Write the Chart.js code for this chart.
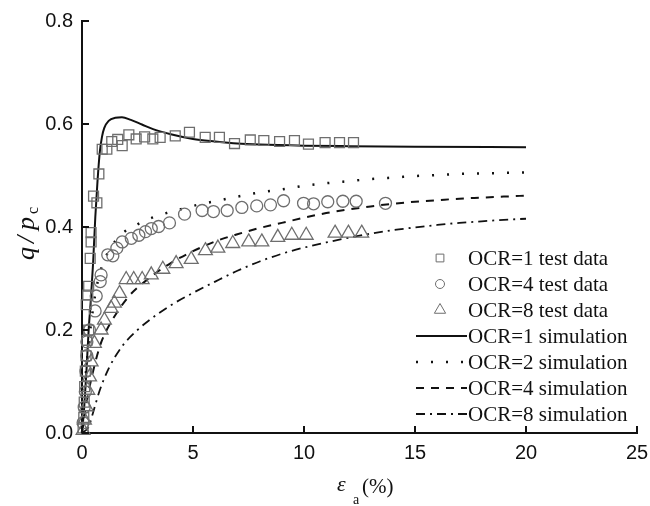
<!DOCTYPE html>
<html><head><meta charset="utf-8">
<script src="https://cdn.jsdelivr.net/npm/chart.js@4.4.0/dist/chart.umd.min.js"></script>
<style>html,body{margin:0;padding:0;background:#fff;}#wrap{width:650px;height:506px;position:relative;}</style>
</head><body><div id="wrap"><canvas id="c" width="650" height="506"></canvas></div>
<script>
// ---- tick values ----
const xTickValues = [0, 5, 10, 15, 20, 25];
const yTickValues = [0, 0.2, 0.4, 0.6, 0.8];
const yTickLabels = ['0.0', '0.2', '0.4', '0.6', '0.8'];
const xTickLabels = ['0', '5', '10', '15', '20', '25'];

// ---- series names ----
const seriesNames = ['OCR=1 test data', 'OCR=4 test data', 'OCR=8 test data',
  'OCR=1 simulation', 'OCR=2 simulation', 'OCR=4 simulation', 'OCR=8 simulation'];

// ---- test data ----
const ocr1TestX = [0.05,0.08,0.1,0.12,0.15,0.18,0.22,0.3,0.19,0.26,0.3,0.37,0.41,0.41,0.52,0.67,0.76,0.91,1.12,1.34,1.61,1.81,2.11,2.44,2.82,3.19,3.52,4.2,4.84,5.55,6.19,6.87,7.58,8.19,8.9,9.57,10.2,10.95,11.6,12.23];
const ocr1TestY = [0.01,0.03,0.06,0.09,0.12,0.15,0.18,0.2,0.249,0.268,0.285,0.339,0.371,0.389,0.46,0.447,0.503,0.551,0.551,0.566,0.57,0.558,0.579,0.571,0.575,0.571,0.574,0.577,0.584,0.574,0.574,0.562,0.569,0.568,0.566,0.568,0.561,0.564,0.564,0.564];

const ocr4TestX = [0.05,0.1,0.15,0.18,0.22,0.22,0.34,0.59,0.64,0.82,0.86,1.16,1.39,1.57,1.81,2.22,2.56,2.86,3.12,3.45,3.94,4.62,5.41,5.92,6.54,7.2,7.87,8.49,9.08,9.98,10.43,11.07,11.75,12.35,13.67];
const ocr4TestY = [0.02,0.05,0.08,0.12,0.15,0.177,0.2,0.237,0.266,0.294,0.307,0.346,0.344,0.359,0.371,0.378,0.384,0.391,0.397,0.401,0.408,0.425,0.432,0.43,0.432,0.438,0.441,0.443,0.451,0.446,0.445,0.449,0.45,0.45,0.446];

const ocr8TestX = [0.05,0.11,0.19,0.26,0.34,0.41,0.56,0.86,1.01,1.31,1.46,1.69,1.99,2.33,2.71,3.12,3.64,4.24,4.92,5.56,6.12,6.79,7.51,8.1,8.82,9.45,10.1,11.4,12.0,12.6];
const ocr8TestY = [0.005,0.025,0.051,0.083,0.109,0.138,0.174,0.2,0.219,0.242,0.252,0.271,0.298,0.298,0.298,0.307,0.318,0.329,0.337,0.354,0.359,0.368,0.371,0.371,0.38,0.384,0.384,0.388,0.388,0.388];

// ---- simulations ----
const ocr1SimX = [0,0.1,0.2,0.3,0.4,0.5,0.6,0.7,0.8,0.9,1.0,1.2,1.5,1.8,2.2,2.7,3.2,4,5,6,7,8,10,12,15,20];
const ocr1SimY = [0,0.05,0.12,0.2,0.26,0.33,0.42,0.49,0.545,0.575,0.592,0.606,0.612,0.613,0.608,0.599,0.59,0.58,0.571,0.566,0.562,0.56,0.558,0.557,0.556,0.555];

const ocr2SimX = [0,0.1,0.2,0.4,0.6,0.8,1.0,1.25,1.75,2.5,3.1,3.8,4.5,5.2,6,7,8,9,10,11,12,13,14,15,16,17,18,19,20];
const ocr2SimY = [0,0.07,0.13,0.21,0.27,0.31,0.335,0.357,0.385,0.405,0.417,0.427,0.435,0.443,0.45,0.459,0.467,0.473,0.48,0.485,0.489,0.493,0.496,0.499,0.501,0.503,0.504,0.505,0.506];

const ocr4SimX = [0,0.1,0.25,0.5,0.8,1.0,1.4,2.1,3,4,5,6,7,8,9,10,11,12,13,14,15,16,17,18,19,20];
const ocr4SimY = [0,0.03,0.07,0.12,0.168,0.19,0.222,0.265,0.3,0.33,0.353,0.372,0.386,0.398,0.408,0.418,0.427,0.434,0.44,0.445,0.449,0.452,0.455,0.457,0.459,0.461];

const ocr8SimX = [0,0.3,0.5,0.8,1.2,1.8,2.5,3,4,5,6,7,8,9,10,11,12,13,14,15,16,17,18,19,20];
const ocr8SimY = [0,0.012,0.04,0.083,0.125,0.168,0.2,0.218,0.248,0.272,0.294,0.315,0.333,0.348,0.36,0.37,0.379,0.387,0.394,0.399,0.404,0.408,0.411,0.414,0.416];

const pts = (xs, ys) => xs.map((x, i) => ({x: x, y: ys[i]}));

const markerColor = '#6e6e6e';
const lineColor = '#111111';

const datasets = [
  {label: seriesNames[0], data: pts(ocr1TestX, ocr1TestY), showLine: false, pointStyle: 'rect', pointRadius: 7, borderColor: markerColor, backgroundColor: 'rgba(0,0,0,0)', pointBorderWidth: 1.3, clip: false},
  {label: seriesNames[1], data: pts(ocr4TestX, ocr4TestY), showLine: false, pointStyle: 'circle', pointRadius: 6, borderColor: markerColor, backgroundColor: 'rgba(0,0,0,0)', pointBorderWidth: 1.3, clip: false},
  {label: seriesNames[2], data: pts(ocr8TestX, ocr8TestY), showLine: false, pointStyle: 'triangle', pointRadius: 8, borderColor: markerColor, backgroundColor: 'rgba(0,0,0,0)', pointBorderWidth: 1.3, clip: false},
  {label: seriesNames[3], data: pts(ocr1SimX, ocr1SimY), showLine: true, pointRadius: 0, borderColor: lineColor, borderWidth: 2, borderDash: [], cubicInterpolationMode: 'monotone', clip: false},
  {label: seriesNames[4], data: pts(ocr2SimX, ocr2SimY), showLine: true, pointRadius: 0, borderColor: lineColor, borderWidth: 2.5, borderDash: [2, 13], cubicInterpolationMode: 'monotone', clip: false},
  {label: seriesNames[5], data: pts(ocr4SimX, ocr4SimY), showLine: true, pointRadius: 0, borderColor: lineColor, borderWidth: 2, borderDash: [8, 7], cubicInterpolationMode: 'monotone', clip: false},
  {label: seriesNames[6], data: pts(ocr8SimX, ocr8SimY), showLine: true, pointRadius: 0, borderColor: lineColor, borderWidth: 1.8, borderDash: [9, 5, 2, 5], cubicInterpolationMode: 'monotone', clip: false}
];

const customPlugin = {
  id: 'customDecor',
  afterDraw(chart) {
    const ctx = chart.ctx, xs = chart.scales.x, ys = chart.scales.y, a = chart.chartArea;
    ctx.save();
    // inward ticks
    ctx.strokeStyle = lineColor; ctx.lineWidth = 2; ctx.setLineDash([]);
    xTickValues.forEach(v => { const px = xs.getPixelForValue(v); ctx.beginPath(); ctx.moveTo(px, a.bottom); ctx.lineTo(px, a.bottom - 7); ctx.stroke(); });
    yTickValues.forEach(v => { const py = ys.getPixelForValue(v); ctx.beginPath(); ctx.moveTo(a.left, py); ctx.lineTo(a.left + 7, py); ctx.stroke(); });

    // y title q/p_c (rotated)
    ctx.fillStyle = lineColor;
    ctx.save();
    ctx.translate(34, 230);
    ctx.rotate(-Math.PI / 2);
    ctx.textBaseline = 'alphabetic';
    ctx.textAlign = 'left';
    ctx.font = 'italic 26px "Liberation Serif"';
    ctx.fillText('q', -30, 0);
    ctx.fillText('/', -13, 0);
    ctx.fillText('p', 0, 0);
    ctx.font = '16px "Liberation Serif"';
    ctx.fillText('c', 16, 4);
    ctx.restore();

    // x title
    ctx.textAlign = 'left';
    ctx.textBaseline = 'alphabetic';
    ctx.font = 'italic 22px "Liberation Serif"';
    ctx.fillText('\u03b5', 337, 491);
    ctx.font = '14px "Liberation Serif"';
    ctx.fillText('a', 353, 504);
    ctx.font = '21px "Liberation Serif"';
    ctx.fillText('(%)', 362, 493);

    // legend
    const rowY = [258, 284, 310, 336, 362, 388, 414];
    ctx.font = '21px "Liberation Serif"';
    ctx.textBaseline = 'middle';
    chart.data.datasets.forEach((ds, i) => {
      const y = rowY[i];
      if (ds.showLine === false) {
        ctx.setLineDash([]);
        ctx.fillStyle = 'rgba(0,0,0,0)';
        ctx.strokeStyle = ds.borderColor; ctx.lineWidth = 1;
        Chart.helpers.drawPoint(ctx, {pointStyle: ds.pointStyle, radius: ds.pointRadius - 1.5, rotation: 0, borderWidth: 1}, 440, y);
      } else {
        ctx.strokeStyle = ds.borderColor;
        ctx.lineWidth = ds.borderWidth;
        ctx.setLineDash(ds.borderDash);
        ctx.beginPath(); ctx.moveTo(416, y); ctx.lineTo(467, y); ctx.stroke();
      }
      ctx.setLineDash([]);
      ctx.fillStyle = lineColor;
      ctx.fillText(ds.label, 468, y + 1);
    });
    ctx.restore();
  }
};

new Chart(document.getElementById('c'), {
  type: 'scatter',
  data: {datasets: datasets},
  options: {
    responsive: false,
    devicePixelRatio: 1,
    animation: false,
    layout: {padding: {left: 0, right: 13, top: 21, bottom: 0}},
    plugins: {legend: {display: false}, tooltip: {enabled: false}},
    scales: {
      x: {
        type: 'linear', min: 0, max: 25,
        afterBuildTicks: s => { s.ticks = xTickValues.map(v => ({value: v})); },
        ticks: {callback: (v) => xTickLabels[xTickValues.indexOf(v)], color: lineColor, font: {family: '"Liberation Sans"', size: 20}, padding: 8, maxRotation: 0, autoSkip: false},
        grid: {display: false, drawTicks: false},
        border: {display: true, color: lineColor, width: 2},
        afterFit: s => { s.height = 73; s.paddingLeft = 0; s.paddingRight = 0; }
      },
      y: {
        type: 'linear', min: 0, max: 0.8,
        afterBuildTicks: s => { s.ticks = yTickValues.map(v => ({value: v})); },
        ticks: {callback: (v) => yTickLabels[yTickValues.indexOf(v)], color: lineColor, font: {family: '"Liberation Sans"', size: 20}, padding: 9, autoSkip: false},
        grid: {display: false, drawTicks: false},
        border: {display: true, color: lineColor, width: 2},
        afterFit: s => { s.width = 82; s.paddingTop = 0; s.paddingBottom = 0; }
      }
    }
  },
  plugins: [customPlugin]
});
</script>
</body></html>
